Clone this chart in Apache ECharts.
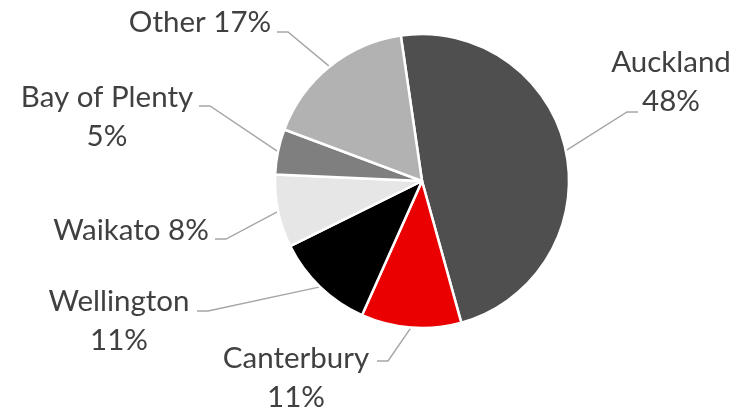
<!DOCTYPE html>
<html><head><meta charset="utf-8">
<script src="https://cdn.jsdelivr.net/npm/echarts@6/dist/echarts.min.js"></script>
<style>html,body{margin:0;padding:0;background:#fff}#c{width:740px;height:412px}</style>
</head><body><div id="c"></div>
<script>
const regions = ['Auckland', 'Canterbury', 'Wellington', 'Waikato', 'Bay of Plenty', 'Other'];
const shares = [48, 11, 11, 8, 5, 17];
const labelTexts = ['Auckland\n48%', 'Canterbury\n11%', 'Wellington\n11%', 'Waikato 8%', 'Bay of Plenty\n5%', 'Other 17%'];
const sliceColors = ['#4f4f4f', '#ea0000', '#000000', '#e6e6e6', '#7f7f7f', '#b2b2b2'];

// label placement (block centre) and where the leader meets the label
const labelSpots = [
  {x: 671, y: 82,  ex: 638, ey: 112, dir: -1},
  {x: 296, y: 378, ex: 377, ey: 361, dir: 1},
  {x: 119, y: 321, ex: 197, ey: 311, dir: 1},
  {x: 131, y: 230, ex: 215, ey: 239, dir: 1},
  {x: 107, y: 117, ex: 199, ey: 106, dir: 1},
  {x: 200, y: 22,  ex: 277, ey: 32,  dir: 1}
];
const bendGap = 11;

const chart = echarts.init(document.getElementById('c'), null, {renderer: 'canvas'});
chart.setOption({
  animation: false,
  backgroundColor: '#ffffff',
  series: [{
    type: 'pie',
    center: [422, 181],
    radius: 147,
    startAngle: 98.3,
    clockwise: true,
    avoidLabelOverlap: false,
    data: regions.map((r, i) => ({name: r, value: shares[i], itemStyle: {color: sliceColors[i]}})),
    itemStyle: {borderColor: '#ffffff', borderWidth: 2.5},
    label: {
      show: true,
      position: 'outside',
      formatter: p => labelTexts[p.dataIndex],
      fontFamily: 'Lato',
      fontSize: 29.5,
      lineHeight: 39,
      color: '#404040',
      align: 'center'
    },
    labelLine: {show: true, length: 10, length2: 10, lineStyle: {color: '#a6a6a6', width: 1.4}},
    labelLayout: function (params) {
      const s = labelSpots[params.dataIndex];
      const start = params.labelLinePoints ? params.labelLinePoints[0] : [s.ex, s.ey];
      return {
        x: s.x, y: s.y, align: 'center', verticalAlign: 'middle',
        labelLinePoints: [start, [s.ex + s.dir * bendGap, s.ey], [s.ex, s.ey]]
      };
    },
    emphasis: {disabled: true}
  }]
});
</script>
</body></html>
